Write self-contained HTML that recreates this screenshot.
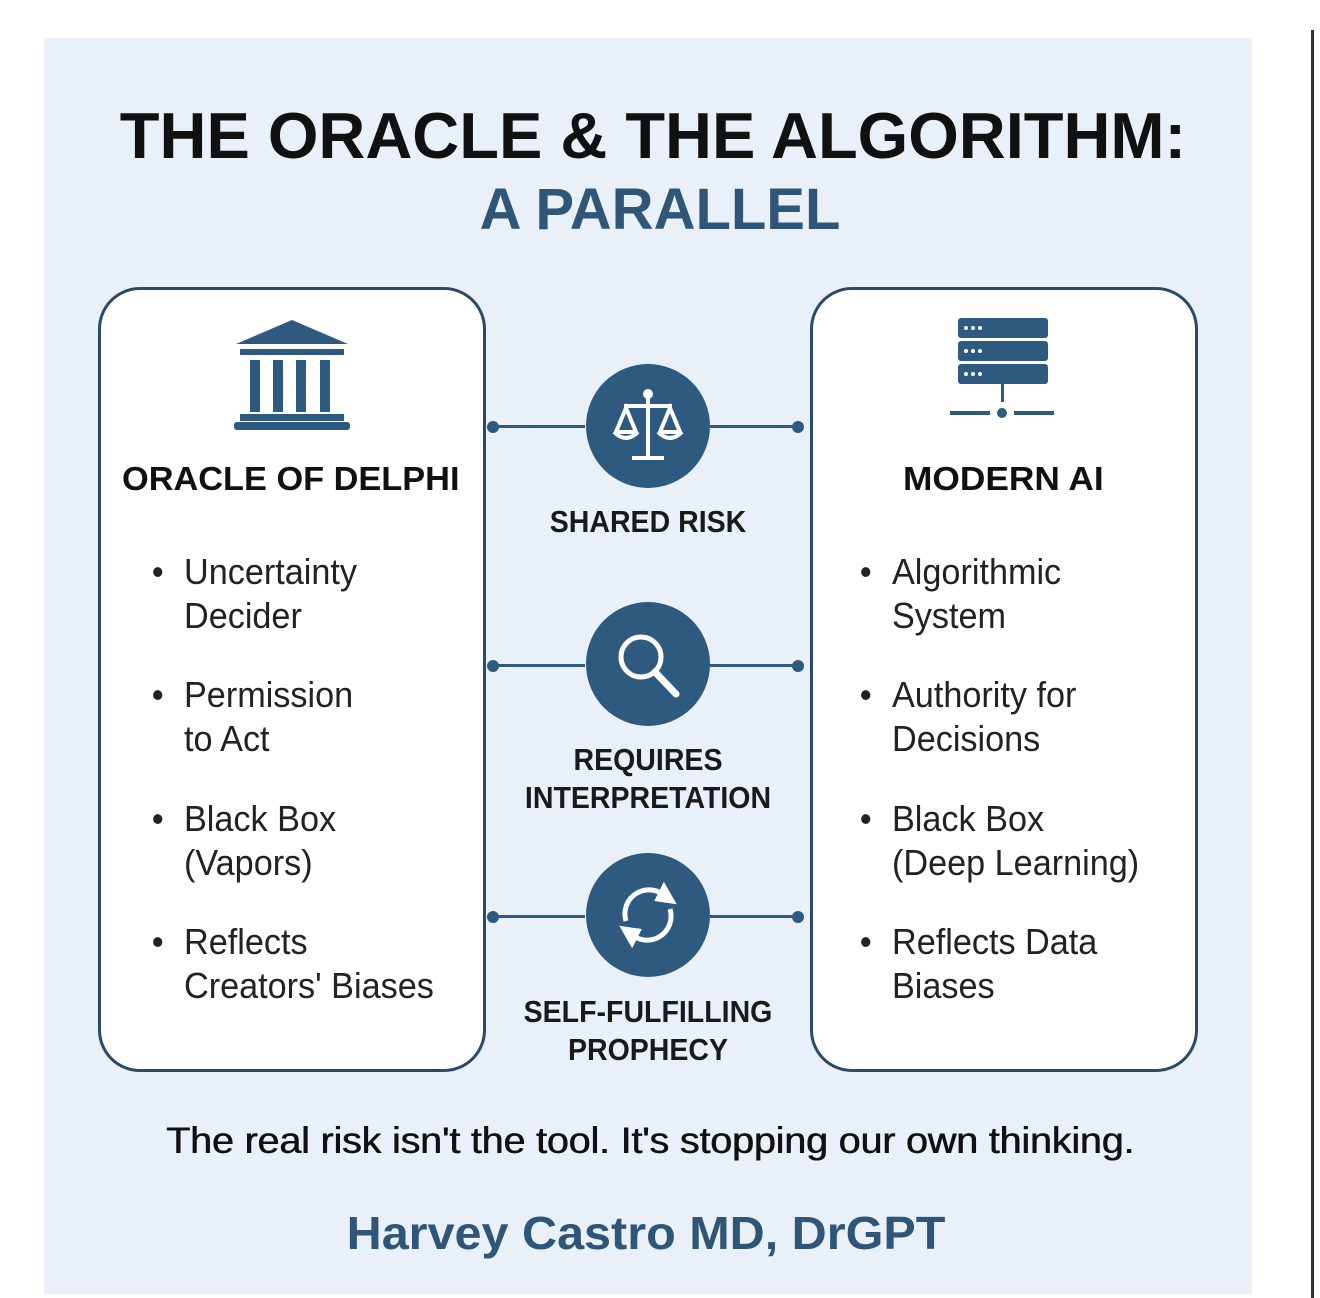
<!DOCTYPE html>
<html><head><meta charset="utf-8"><style>
body{margin:0;width:1320px;height:1298px;background:#fff;position:relative;overflow:hidden;font-family:"Liberation Sans",sans-serif;}
.panel{position:absolute;left:44px;top:38px;width:1208px;height:1256px;background:#e9f0f8;}
.vline{position:absolute;left:1311px;top:30px;width:3px;height:1268px;background:#333;}
.t{position:absolute;left:0;width:1320px;text-align:center;white-space:nowrap;}
.box{position:absolute;top:287px;width:388px;height:785px;border:3px solid #2b4a66;border-radius:42px;background:#fff;box-sizing:border-box;}
.h{position:absolute;font-weight:bold;font-size:33px;color:#111;white-space:nowrap;transform-origin:left;}
.b{position:absolute;font-size:36px;line-height:44px;color:#222;white-space:nowrap;transform-origin:left;transform:scaleX(0.95);}
.b:before{content:"•";position:absolute;left:-34px;}
.c{position:absolute;width:124px;height:124px;border-radius:50%;background:#2f5a80;left:586px;}
.ln{position:absolute;height:3px;background:#2f5a80;}
.dot{position:absolute;width:12px;height:12px;border-radius:50%;background:#2f5a80;}
.lab{position:absolute;left:448px;width:400px;text-align:center;font-weight:bold;font-size:31px;line-height:38px;color:#1a1a1a;transform:scaleX(0.92);}
</style></head><body>
<div class="panel"></div><div class="vline"></div>
<div class="t" style="top:98px;font-size:65px;font-weight:bold;color:#111;left:-7px;">THE ORACLE &amp; THE ALGORITHM:</div>
<div class="t" style="top:176px;font-size:58px;font-weight:bold;color:#2f5577;">A PARALLEL</div>

<div class="box" style="left:98px"></div>
<div class="box" style="left:810px"></div>

<svg style="position:absolute;left:232px;top:318px" width="120" height="115" viewBox="0 0 120 115">
<polygon points="60,2 116,26 4,26" fill="#2f5a80"/>
<rect x="8" y="31" width="104" height="6" fill="#2f5a80"/>
<rect x="18" y="42" width="10" height="52" fill="#2f5a80"/><rect x="41" y="42" width="10" height="52" fill="#2f5a80"/>
<rect x="64" y="42" width="10" height="52" fill="#2f5a80"/><rect x="88" y="42" width="10" height="52" fill="#2f5a80"/>
<rect x="8" y="96" width="104" height="7" fill="#2f5a80"/><rect x="2" y="104" width="116" height="8" rx="3" fill="#2f5a80"/>
</svg>
<svg style="position:absolute;left:946px;top:318px" width="110" height="115" viewBox="0 0 110 115">
<g fill="#2f5a80"><rect x="12" y="0" width="90" height="20" rx="3"/><rect x="12" y="23" width="90" height="20" rx="3"/><rect x="12" y="46" width="90" height="20" rx="3"/>
<rect x="55" y="66" width="3" height="18"/><rect x="4" y="93" width="40" height="4"/><rect x="68" y="93" width="40" height="4"/><circle cx="56" cy="95" r="5"/></g>
<g fill="#fff"><circle cx="20" cy="10" r="2"/><circle cx="27" cy="10" r="2"/><circle cx="34" cy="10" r="2"/><circle cx="20" cy="33" r="2"/><circle cx="27" cy="33" r="2"/><circle cx="34" cy="33" r="2"/><circle cx="20" cy="56" r="2"/><circle cx="27" cy="56" r="2"/><circle cx="34" cy="56" r="2"/></g>
</svg>

<div class="h" style="left:122px;top:460px;transform:scaleX(1.04);">ORACLE OF DELPHI</div>
<div class="h" style="left:903px;top:460px;transform:scaleX(1.07);">MODERN AI</div>

<div class="b" style="left:184px;top:550px">Uncertainty<br>Decider</div>
<div class="b" style="left:184px;top:673px">Permission<br>to Act</div>
<div class="b" style="left:184px;top:797px">Black Box<br>(Vapors)</div>
<div class="b" style="left:184px;top:920px">Reflects<br>Creators' Biases</div>

<div class="b" style="left:892px;top:550px">Algorithmic<br>System</div>
<div class="b" style="left:892px;top:673px">Authority for<br>Decisions</div>
<div class="b" style="left:892px;top:797px">Black Box<br>(Deep Learning)</div>
<div class="b" style="left:892px;top:920px">Reflects Data<br>Biases</div>

<div class="ln" style="left:493px;width:92px;top:425px"></div><div class="ln" style="left:710px;width:88px;top:425px"></div>
<div class="dot" style="left:487px;top:421px"></div><div class="dot" style="left:792px;top:421px"></div>
<div class="ln" style="left:493px;width:92px;top:664px"></div><div class="ln" style="left:710px;width:88px;top:664px"></div>
<div class="dot" style="left:487px;top:660px"></div><div class="dot" style="left:792px;top:660px"></div>
<div class="ln" style="left:493px;width:92px;top:915px"></div><div class="ln" style="left:710px;width:88px;top:915px"></div>
<div class="dot" style="left:487px;top:911px"></div><div class="dot" style="left:792px;top:911px"></div>

<div class="c" style="top:364px"><svg width="124" height="124" viewBox="0 0 124 124" fill="none" stroke="#fff" stroke-width="4">
<line x1="62" y1="32" x2="62" y2="92"/><line x1="38" y1="42" x2="86" y2="42"/><line x1="46" y1="94" x2="78" y2="94"/><circle cx="62" cy="30" r="3" fill="#fff"/>
<path d="M40 44 L30 68 L50 68 Z M84 44 L74 68 L94 68 Z"/><path d="M28 68 Q40 80 52 68 M72 68 Q84 80 96 68"/></svg></div>
<div class="c" style="top:602px"><svg width="124" height="124" viewBox="0 0 124 124" fill="none" stroke="#fff" stroke-width="5">
<circle cx="55" cy="55" r="20"/><line x1="69" y1="70" x2="90" y2="92" stroke-width="7" stroke-linecap="round"/></svg></div>
<div class="c" style="top:853px"><svg width="124" height="124" viewBox="0 0 124 124" fill="none" stroke="#fff" stroke-width="5">
<path d="M40 68 A24 24 0 0 1 80 44"/><path d="M84 56 A24 24 0 0 1 44 80"/><polygon points="78,34 86,48 72,46" fill="#fff"/><polygon points="46,90 38,76 52,78" fill="#fff"/></svg></div>

<div class="lab" style="top:503px">SHARED RISK</div>
<div class="lab" style="top:741px">REQUIRES<br>INTERPRETATION</div>
<div class="lab" style="top:993px">SELF-FULFILLING<br>PROPHECY</div>

<div class="t" style="top:1120px;left:-10px;font-size:37px;color:#111;transform:scaleX(1.07);letter-spacing:-0.2px;text-shadow:0.6px 0 0 #111;">The real risk isn't the tool. It's stopping our own thinking.</div>
<div class="t" style="top:1206px;left:-14px;font-size:46px;font-weight:bold;color:#2f5577;transform:scaleX(1.055);">Harvey Castro MD, DrGPT</div>
</body></html>
